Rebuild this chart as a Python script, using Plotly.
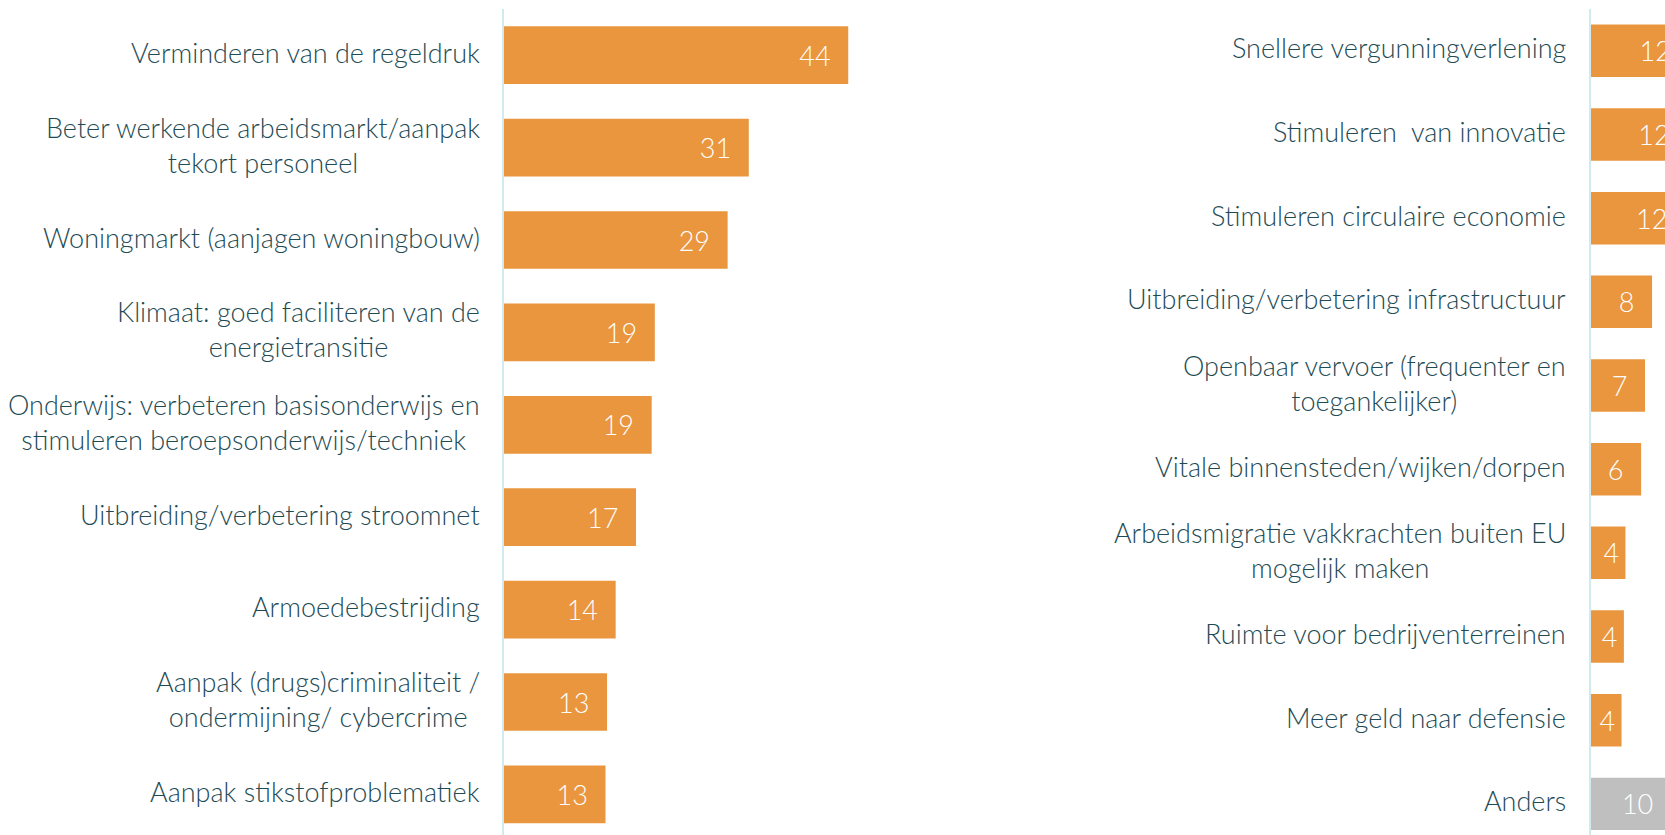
import plotly.graph_objects as go

# ---------------- data ----------------
left_labels = [
    "Verminderen van de regeldruk",
    "Beter werkende arbeidsmarkt/aanpak<br>tekort personeel",
    "Woningmarkt (aanjagen woningbouw)",
    "Klimaat: goed faciliteren van de<br>energietransitie",
    "Onderwijs: verbeteren basisonderwijs en<br>stimuleren beroepsonderwijs/techniek",
    "Uitbreiding/verbetering stroomnet",
    "Armoedebestrijding",
    "Aanpak (drugs)criminaliteit /<br>ondermijning/ cybercrime",
    "Aanpak stikstofproblematiek",
]
left_values = [44.0, 31.3, 28.6, 19.3, 18.9, 16.9, 14.3, 13.2, 13.0]

right_labels = [
    "Snellere vergunningverlening",
    "Stimuleren\u00a0 van innovatie",
    "Stimuleren circulaire economie",
    "Uitbreiding/verbetering infrastructuur",
    "Openbaar vervoer (frequenter en<br>toegankelijker)",
    "Vitale binnensteden/wijken/dorpen",
    "Arbeidsmigratie vakkrachten buiten EU<br>mogelijk maken",
    "Ruimte voor bedrijventerreinen",
    "Meer geld naar defensie",
    "Anders",
]
right_values = [12.45, 12.3, 12.0, 7.8, 6.9, 6.4, 4.4, 4.2, 3.9, 10.2]

# ---------------- styles ----------------
ORANGE = "#E9963E"
GREY = "#BFBFBF"
TEXT = "#1E4B54"
AXIS = "#CFEAF0"
FONT = "Lato Light, Lato"
FS = 27


def value_text(v):
    # trailing spaces act as inner right padding of the label
    pad = "\u00a0\u00a0" if v >= 5 else "\u2009"
    return f"{round(v)}{pad}"


W, H = 1665, 835
PX_PER_UNIT = 7.83
left_x0, left_x1 = 503.7, 1032.0
right_x0, right_x1 = 1591.0, 1665.0
top_px = 9.0
plot_h = H - top_px
left_step = 92.4
right_step = 83.67

right_colors = [ORANGE] * (len(right_values) - 1) + [GREY]

fig = go.Figure()
fig.add_trace(go.Bar(
    x=left_values, y=left_labels, orientation="h",
    marker=dict(color=ORANGE, line=dict(width=0)),
    text=[value_text(v) for v in left_values], textposition="inside", insidetextanchor="end",
    textangle=0,
    textfont=dict(family=FONT, size=FS, color="white", weight=300),
    width=0.624, xaxis="x", yaxis="y", hoverinfo="skip", cliponaxis=True,
))
fig.add_trace(go.Bar(
    x=right_values, y=right_labels, orientation="h",
    marker=dict(color=right_colors, line=dict(width=0)),
    text=[value_text(v) for v in right_values], textposition="inside", insidetextanchor="end",
    textangle=0,
    textfont=dict(family=FONT, size=FS, color="white", weight=300),
    width=0.627, xaxis="x2", yaxis="y2", hoverinfo="skip", cliponaxis=True,
))

annotations = []
for lab in left_labels:
    annotations.append(dict(
        text=lab, xref="x domain", x=0, xshift=-22, xanchor="right",
        yref="y", y=lab, yanchor="middle", yshift=3, align="center", showarrow=False,
        font=dict(family=FONT, size=FS, color=TEXT, weight=300),
    ))
for lab in right_labels:
    annotations.append(dict(
        text=lab, xref="x2 domain", x=0, xshift=-23, xanchor="right",
        yref="y2", y=lab, yanchor="middle", yshift=3, align="center", showarrow=False,
        font=dict(family=FONT, size=FS, color=TEXT, weight=300),
    ))

fig.update_layout(
    width=W, height=H,
    margin=dict(l=0, r=0, t=int(top_px), b=0, pad=0),
    paper_bgcolor="white", plot_bgcolor="white",
    showlegend=False,
    uniformtext=dict(minsize=FS, mode="show"),
    annotations=annotations,
    xaxis=dict(domain=[left_x0 / W, left_x1 / W], range=[0, (left_x1 - left_x0) / PX_PER_UNIT],
               visible=False, fixedrange=True),
    xaxis2=dict(domain=[right_x0 / W, right_x1 / W], range=[0, (right_x1 - right_x0) / PX_PER_UNIT],
                visible=False, fixedrange=True, anchor="y2"),
    yaxis=dict(domain=[0, 1], type="category",
               range=[-0.5 + plot_h / left_step, -0.5],
               showticklabels=False, showgrid=False, zeroline=False,
               showline=True, linecolor=AXIS, linewidth=2, ticks="", fixedrange=True),
    yaxis2=dict(domain=[0, 1], type="category", anchor="x2",
                range=[-0.5 + plot_h / right_step, -0.5],
                showticklabels=False, showgrid=False, zeroline=False,
                showline=True, linecolor=AXIS, linewidth=2, ticks="", fixedrange=True),
)

fig.write_html(
    "out.html",
    config={"displayModeBar": False},
    post_script="document.body.style.margin='0';document.body.style.overflow='hidden';",
)
